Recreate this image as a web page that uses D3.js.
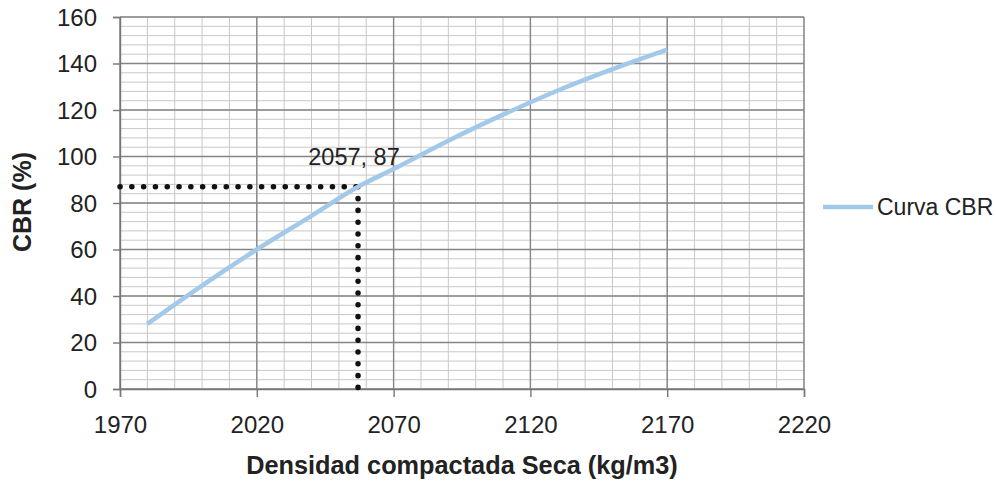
<!DOCTYPE html>
<html><head><meta charset="utf-8">
<script src="https://cdn.jsdelivr.net/npm/d3@7"></script>
<style>body{margin:0;background:#fff}svg{display:block}text{font-family:"Liberation Sans",Arial,sans-serif;fill:#222}</style>
</head><body><svg id="c" width="996" height="482"></svg>
<script>
const density = [1980, 2000, 2020, 2040, 2057, 2070, 2090, 2110, 2130, 2150, 2170];
const cbr     = [28, 44.5, 60, 74.5, 87, 94.6, 106.8, 118, 128.4, 137.6, 146];
const xTicks = [1970, 2020, 2070, 2120, 2170, 2220];
const yTicks = [0, 20, 40, 60, 80, 100, 120, 140, 160];
const marker = {x: 2057, y: 87, label: "2057, 87"};
const seriesName = "Curva CBR";
const xTitle = "Densidad compactada Seca (kg/m3)";
const yTitle = "CBR (%)";

const svg = d3.select("#c");
const m = {l:120, r:192, t:17, b:93};
const W = 996, H = 482;
const x = d3.scaleLinear().domain([1970, 2220]).range([m.l, W - m.r]);
const y = d3.scaleLinear().domain([0, 160]).range([H - m.b, m.t]);

const g = svg.append("g");
// minor grid
g.selectAll(".vx").data(d3.range(1970, 2221, 10)).join("line")
  .attr("x1", d=>x(d)).attr("x2", d=>x(d)).attr("y1", y(0)).attr("y2", y(160))
  .attr("stroke", "#c8c8c8").attr("stroke-width", 1);
g.selectAll(".hy").data(d3.range(0, 161, 4)).join("line")
  .attr("y1", d=>y(d)).attr("y2", d=>y(d)).attr("x1", x(1970)).attr("x2", x(2220))
  .attr("stroke", "#c8c8c8").attr("stroke-width", 1);
// major grid
g.selectAll(".mx").data(xTicks).join("line")
  .attr("x1", d=>x(d)).attr("x2", d=>x(d)).attr("y1", y(0)).attr("y2", y(160))
  .attr("stroke", "#858585").attr("stroke-width", 1.4);
g.selectAll(".my").data(yTicks).join("line")
  .attr("y1", d=>y(d)).attr("y2", d=>y(d)).attr("x1", x(1970)).attr("x2", x(2220))
  .attr("stroke", "#858585").attr("stroke-width", 1.4);

// axes
const xa = svg.append("g").attr("transform", `translate(0,${y(0)})`)
  .call(d3.axisBottom(x).tickValues(xTicks).tickFormat(d3.format("d")).tickSize(8).tickPadding(17));
const ya = svg.append("g").attr("transform", `translate(${x(1970)},0)`)
  .call(d3.axisLeft(y).tickValues(yTicks).tickSize(7).tickPadding(16));
[xa, ya].forEach(a => {
  a.select(".domain").attr("stroke", "#777").attr("stroke-width", 1.4);
  a.selectAll(".tick line").attr("stroke", "#777").attr("stroke-width", 1.4);
  a.selectAll("text").style("font-size", "24px").attr("fill", "#222");
});
xa.selectAll("text").attr("dy", "0.8em");
ya.selectAll("text").attr("dy", "0.35em");

// dotted guide lines
const dotStyle = s => s.attr("stroke", "#111").attr("stroke-width", 5.5)
  .attr("stroke-linecap", "round").attr("stroke-dasharray", "0.1 11.7").attr("fill", "none");
svg.append("line").attr("x1", x(1970)).attr("x2", x(marker.x))
  .attr("y1", y(marker.y)).attr("y2", y(marker.y)).call(dotStyle);
svg.append("line").attr("x1", x(marker.x)).attr("x2", x(marker.x))
  .attr("y1", y(marker.y)).attr("y2", y(0)).call(dotStyle);

// curve
const data = density.map((d,i)=>({x:d, y:cbr[i]}));
svg.append("path").datum(data)
  .attr("d", d3.line().x(d=>x(d.x)).y(d=>y(d.y)).curve(d3.curveMonotoneX))
  .attr("fill", "none").attr("stroke", "#a3c9ea").attr("stroke-width", 4.5);

// data label
svg.append("text").attr("x", x(marker.x) - 4).attr("y", y(marker.y) - 22)
  .attr("text-anchor", "middle").style("font-size", "23.5px").text(marker.label);

// legend
svg.append("line").attr("x1", 823).attr("x2", 873).attr("y1", 207).attr("y2", 207)
  .attr("stroke", "#a3c9ea").attr("stroke-width", 4.5);
svg.append("text").attr("x", 877).attr("y", 207).attr("dy", "0.35em")
  .style("font-size", "23px").text(seriesName);

// axis titles
svg.append("text").attr("x", (x(1970)+x(2220))/2).attr("y", 474)
  .attr("text-anchor", "middle").style("font-size", "25.3px").style("font-weight", "bold").text(xTitle);
svg.append("text").attr("transform", "translate(31,202) rotate(-90)")
  .attr("text-anchor", "middle").style("font-size", "25px").style("font-weight", "bold").text(yTitle);
</script></body></html>
